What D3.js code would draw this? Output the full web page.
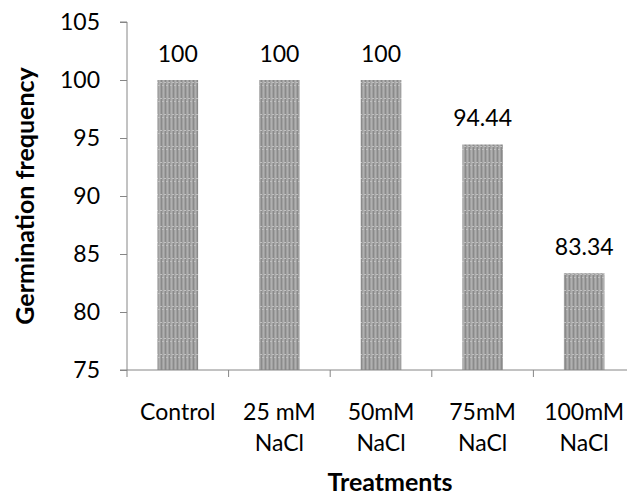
<!DOCTYPE html>
<html>
<head>
<meta charset="utf-8">
<script src="https://cdn.jsdelivr.net/npm/d3@7"></script>
<style>
  body { margin: 0; background: #fff; }
  svg text { font-family: Lato, "Open Sans", sans-serif; fill: #000; }
</style>
</head>
<body>
<svg id="chart"></svg>
<script>
const width = 627;
const height = 495;
const margin = { top: 22, right: -8, bottom: 125, left: 127 };

// data
const categories = [['Control'], ['25 mM', 'NaCl'], ['50mM', 'NaCl'], ['75mM', 'NaCl'], ['100mM', 'NaCl']];
const values = [100, 100, 100, 94.44, 83.34];
const valueLabels = ['100', '100', '100', '94.44', '83.34'];
const yTicks = [75, 80, 85, 90, 95, 100, 105];

const svg = d3.select('#chart')
    .attr('width', width)
    .attr('height', height);

// hatched grey fill like the original bars
const defs = svg.append('defs');
const pat = defs.append('pattern')
    .attr('id', 'hatch')
    .attr('patternUnits', 'userSpaceOnUse')
    .attr('width', 4)
    .attr('height', 16);
pat.append('rect').attr('width', 4).attr('height', 16).attr('fill', '#a0a0a0');
pat.append('rect').attr('x', 1).attr('width', 1).attr('height', 16).attr('fill', '#8a8a8a');
pat.append('rect').attr('x', 3).attr('width', 1).attr('height', 16).attr('fill', '#b0b0b0');
pat.append('rect').attr('x', 0).attr('y', 2).attr('width', 2).attr('height', 1).attr('fill', '#c0c0c0');
pat.append('rect').attr('x', 2).attr('y', 5).attr('width', 2).attr('height', 1).attr('fill', '#c0c0c0');

const idx = d3.range(categories.length);

const xScale = d3.scaleBand()
    .domain(idx)
    .range([margin.left, width - margin.right])
    .paddingInner(0.6)
    .paddingOuter(0.3);

const xEdges = d3.scaleLinear()
    .domain([0, categories.length])
    .range([margin.left, width - margin.right]);

const yScale = d3.scaleLinear()
    .domain([75, 105])
    .range([height - margin.bottom, margin.top]);

// bars
svg.append('g')
    .selectAll('rect')
    .data(idx)
    .enter()
    .append('rect')
    .attr('x', i => xScale(i))
    .attr('y', i => yScale(values[i]))
    .attr('width', xScale.bandwidth())
    .attr('height', i => yScale(75) - yScale(values[i]))
    .attr('fill', 'url(#hatch)');

// value labels
svg.append('g')
    .selectAll('text')
    .data(idx)
    .enter()
    .append('text')
    .attr('x', i => xScale(i) + xScale.bandwidth() / 2)
    .attr('y', i => yScale(values[i]) - 18)
    .attr('text-anchor', 'middle')
    .style('font-size', '23px')
    .text(i => valueLabels[i]);

// y axis
const yAxis = svg.append('g')
    .attr('transform', `translate(${margin.left},0)`)
    .call(d3.axisLeft(yScale).tickValues(yTicks).tickSize(7).tickPadding(20));
yAxis.selectAll('path, line').attr('stroke', '#868686');
yAxis.select('.domain').attr('d', `M-7,${yScale(105)}H0V${yScale(75)}H-7`);
yAxis.selectAll('text').style('font-size', '23px').attr('fill', '#000');

// x axis line with ticks between categories
const xg = svg.append('g')
    .attr('transform', `translate(0,${yScale(75)})`);
xg.append('line')
    .attr('x1', margin.left).attr('x2', width)
    .attr('stroke', '#868686');
xg.selectAll('line.tk')
    .data(d3.range(categories.length + 1))
    .enter()
    .append('line')
    .attr('class', 'tk')
    .attr('x1', d => xEdges(d)).attr('x2', d => xEdges(d))
    .attr('y1', 0).attr('y2', 7)
    .attr('stroke', '#868686');

// category labels
const catText = svg.append('g')
    .selectAll('text')
    .data(idx)
    .enter()
    .append('text')
    .attr('x', i => xScale(i) + xScale.bandwidth() / 2)
    .attr('y', yScale(75) + 50)
    .attr('text-anchor', 'middle')
    .style('font-size', '23px');
catText.selectAll('tspan')
    .data(i => categories[i].map(t => ({ t, i })))
    .enter()
    .append('tspan')
    .attr('x', d => xScale(d.i) + xScale.bandwidth() / 2)
    .attr('dy', (d, k) => k === 0 ? 0 : 31)
    .text(d => d.t);

// axis titles
svg.append('text')
    .attr('x', 390)
    .attr('y', 491)
    .attr('text-anchor', 'middle')
    .style('font-size', '25px')
    .style('font-weight', 'bold')
    .text('Treatments');

svg.append('text')
    .attr('transform', `translate(34,${(yScale(75) + yScale(105)) / 2}) rotate(-90)`)
    .attr('text-anchor', 'middle')
    .style('font-size', '25px')
    .style('font-weight', 'bold')
    .text('Germination frequency');
</script>
</body>
</html>
